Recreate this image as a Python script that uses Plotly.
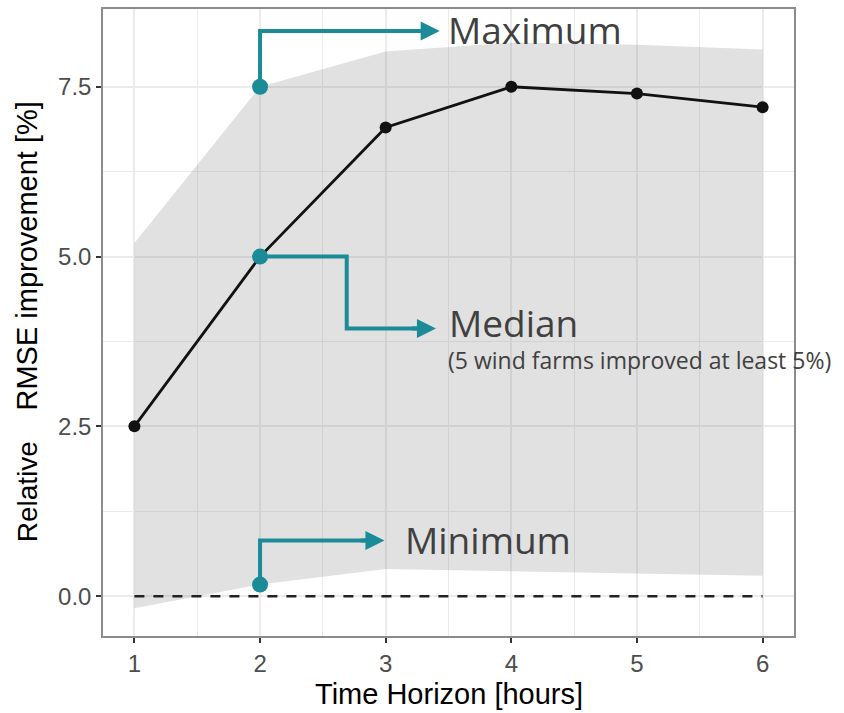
import plotly.graph_objects as go

# ---- data ----
horizon = [1, 2, 3, 4, 5, 6]
median = [2.5, 5.0, 6.9, 7.5, 7.4, 7.2]
maximum = [5.2, 7.5, 8.02, 8.15, 8.12, 8.05]
minimum = [-0.18, 0.17, 0.40, 0.36, 0.33, 0.30]
y_tickvals = [0, 2.5, 5.0, 7.5]
y_ticktext = ["0.0", "2.5", "5.0", "7.5"]

TEAL = "#1b8b97"
TXT = "#404040"
AXFONT = "Liberation Sans, Arial, Helvetica, sans-serif"
ANNFONT = "Open Sans, Noto Sans, sans-serif"

fig = go.Figure()

# ribbon (min..max)
fig.add_trace(go.Scatter(
    x=horizon + horizon[::-1],
    y=maximum + minimum[::-1],
    fill="toself", fillcolor="rgba(120,120,120,0.22)",
    line=dict(width=0), mode="lines", hoverinfo="skip"))

# zero dashed line
fig.add_trace(go.Scatter(
    x=[horizon[0], horizon[-1]], y=[0, 0], mode="lines",
    line=dict(color="#222222", width=2.5, dash="10px,9px")))

# median line
fig.add_trace(go.Scatter(
    x=horizon, y=median, mode="lines+markers",
    line=dict(color="#111111", width=2.8),
    marker=dict(color="#111111", size=12)))

# ---- teal connectors ----
x0 = horizon[1]
# Maximum: up then right
max_elbow_y = 8.32
max_tip_x = 3.43
fig.add_trace(go.Scatter(x=[x0, x0, max_tip_x - 0.12], y=[maximum[1], max_elbow_y, max_elbow_y],
                         mode="lines", line=dict(color=TEAL, width=4)))
# Median: right, down, right
med_turn_x = 2.69
med_low_y = 3.94
med_tip_x = 3.40
fig.add_trace(go.Scatter(x=[x0, med_turn_x, med_turn_x, med_tip_x - 0.12],
                         y=[median[1], median[1], med_low_y, med_low_y],
                         mode="lines", line=dict(color=TEAL, width=4)))
# Minimum: up then right
min_elbow_y = 0.82
min_tip_x = 2.99
fig.add_trace(go.Scatter(x=[x0, x0, min_tip_x - 0.12], y=[minimum[1], min_elbow_y, min_elbow_y],
                         mode="lines", line=dict(color=TEAL, width=4)))
# dots
fig.add_trace(go.Scatter(x=[x0, x0, x0], y=[maximum[1], median[1], minimum[1]],
                         mode="markers", marker=dict(color=TEAL, size=16)))

annotations = []
for tip_x, yy in [(max_tip_x, max_elbow_y), (med_tip_x, med_low_y), (min_tip_x, min_elbow_y)]:
    annotations.append(dict(
        x=tip_x, y=yy, ax=tip_x - 0.2, ay=yy, xref="x", yref="y", axref="x", ayref="y",
        text="", showarrow=True, arrowhead=2, arrowsize=0.95, arrowwidth=4,
        arrowcolor=TEAL))

annotations += [
    dict(x=3.48, y=8.35, xref="x", yref="y", text="Maximum", showarrow=False,
         xanchor="left", yanchor="middle", font=dict(family=ANNFONT, size=37, color=TXT)),
    dict(x=3.49, y=4.03, xref="x", yref="y", text="Median", showarrow=False,
         xanchor="left", yanchor="middle", font=dict(family=ANNFONT, size=37, color=TXT)),
    dict(x=3.48, y=3.47, xref="x", yref="y", text="(5 wind farms improved at least 5%)",
         showarrow=False, xanchor="left", yanchor="middle",
         font=dict(family=ANNFONT, size=23, color=TXT)),
    dict(x=3.14, y=0.83, xref="x", yref="y", text="Minimum", showarrow=False,
         xanchor="left", yanchor="middle", font=dict(family=ANNFONT, size=37, color=TXT)),
    # axis titles
    dict(x=0.5, y=-58 / 629, xref="paper", yref="paper", text="Time Horizon [hours]",
         showarrow=False, xanchor="center", yanchor="middle",
         font=dict(family=AXFONT, size=29, color="black")),
    dict(x=-76 / 691, y=1.53, xref="paper", yref="y", text="Relative", textangle=-90,
         showarrow=False, xanchor="center", yanchor="middle",
         font=dict(family=AXFONT, size=28, color="black")),
    dict(x=-76 / 691, y=5.0, xref="paper", yref="y", text="RMSE improvement [%]", textangle=-90,
         showarrow=False, xanchor="center", yanchor="middle",
         font=dict(family=AXFONT, size=29, color="black")),
]

GRID = "#ebebeb"
fig.update_layout(
    width=844, height=713,
    margin=dict(l=103, r=50, t=7, b=77),
    plot_bgcolor="white", paper_bgcolor="white",
    showlegend=False,
    annotations=annotations,
    xaxis=dict(range=[0.75, 6.25], tickvals=horizon, ticks="outside", ticklen=5,
               tickwidth=1.5, tickcolor="#333333",
               tickfont=dict(family=AXFONT, size=24, color="#4d4d4d"),
               showgrid=True, gridcolor=GRID, gridwidth=1.5,
               minor=dict(showgrid=True, tick0=0.5, dtick=0.5, gridcolor=GRID, gridwidth=0.8),
               showline=True, linecolor="#8c8c8c", linewidth=1.5, mirror=True, zeroline=False),
    yaxis=dict(range=[-0.587, 8.645], tickvals=y_tickvals, ticktext=y_ticktext,
               ticks="outside", ticklen=5, tickwidth=1.5, tickcolor="#333333",
               tickfont=dict(family=AXFONT, size=24, color="#4d4d4d"),
               showgrid=True, gridcolor=GRID, gridwidth=1.5,
               minor=dict(showgrid=True, tick0=0, dtick=1.25, gridcolor=GRID, gridwidth=0.8),
               showline=True, linecolor="#8c8c8c", linewidth=1.5, mirror=True, zeroline=False),
)

fig.write_html("out.html")
